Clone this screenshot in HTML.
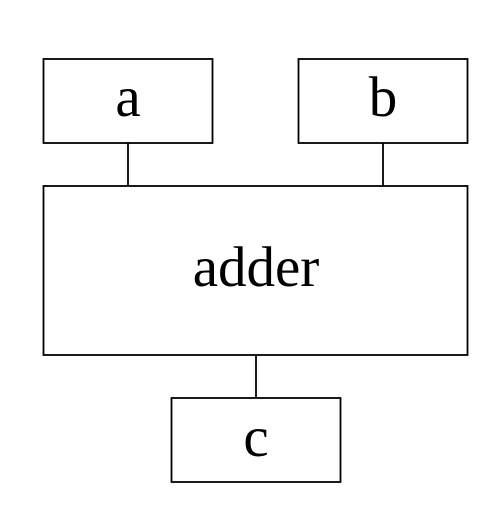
<!DOCTYPE html>
<html><head><style>body{margin:0;background:#fff}</style></head><body>
<svg width="488" height="511" xmlns="http://www.w3.org/2000/svg" style="display:block">
<g fill="none" stroke="#000" stroke-width="1.8">
<rect x="43.5" y="59" width="169" height="84"/>
<rect x="298.5" y="59" width="169" height="84"/>
<rect x="43.5" y="186" width="424" height="169"/>
<rect x="171.5" y="398" width="169" height="84"/>
<line x1="128" y1="143" x2="128" y2="186"/>
<line x1="383" y1="143" x2="383" y2="186"/>
<line x1="256" y1="355" x2="256" y2="398"/>
</g>
<g font-family="Liberation Serif, serif" font-size="57" text-anchor="middle" fill="#000">
<text x="128" y="116">a</text>
<text x="383" y="116">b</text>
<text x="256" y="286">adder</text>
<text x="256" y="456">c</text>
</g>
</svg>
</body></html>
